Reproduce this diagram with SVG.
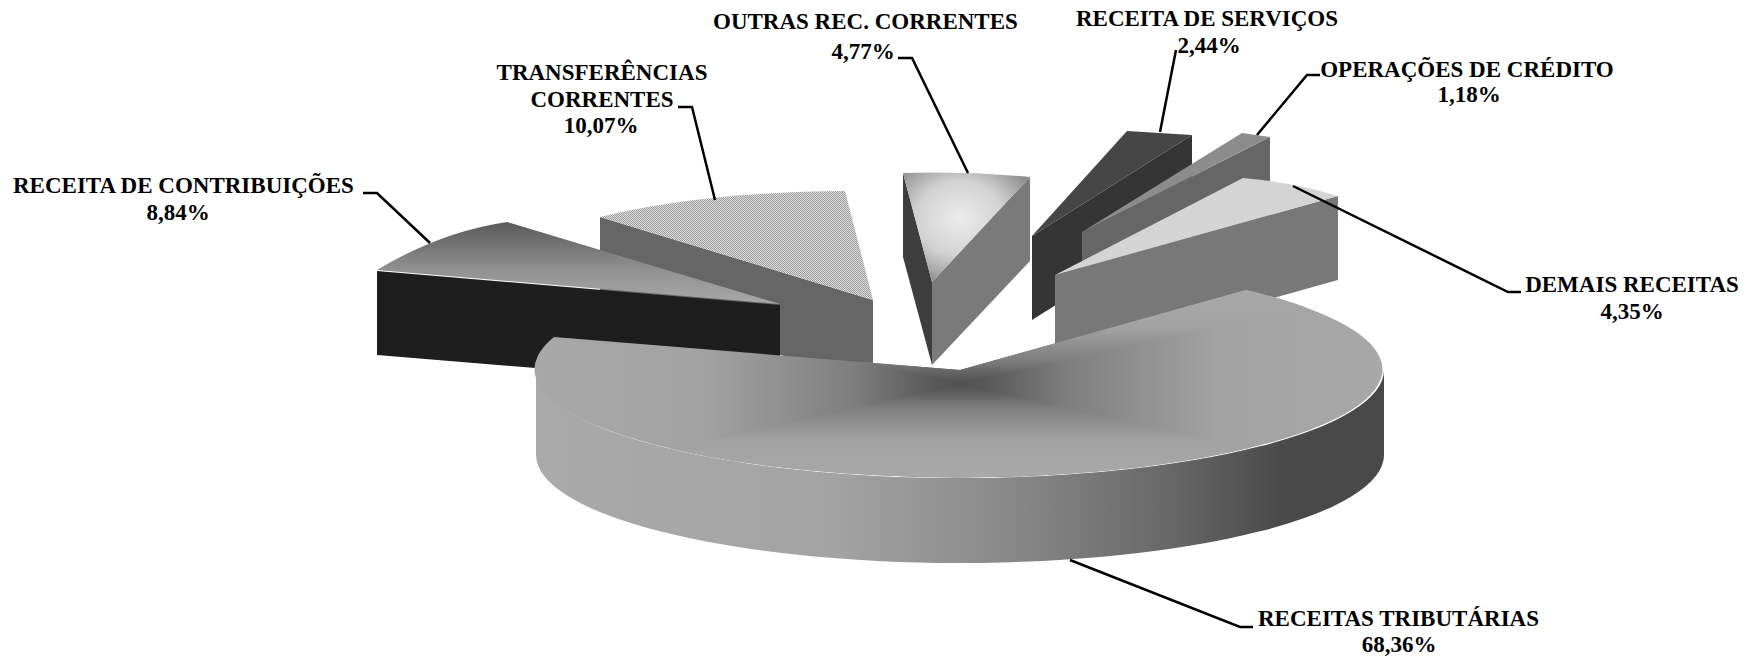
<svg xmlns="http://www.w3.org/2000/svg" width="1759" height="657" viewBox="0 0 1759 657">
<style>
  text { font-family: "Liberation Serif", "Times New Roman", serif; font-weight: bold; font-size: 23px; fill: #000; }
  .mid { text-anchor: middle; }
  .leader { fill: none; stroke: #000; stroke-width: 2.5; stroke-linejoin: miter; }
</style>
<defs>
  <pattern id="hatch" width="2" height="2" patternUnits="userSpaceOnUse">
    <rect width="2" height="2" fill="#e0e0e0"/>
    <rect x="0" y="0" width="1" height="1" fill="#999999"/>
    <rect x="1" y="1" width="1" height="1" fill="#999999"/>
  </pattern>
  <linearGradient id="gContrib" gradientUnits="userSpaceOnUse" x1="0" y1="222" x2="0" y2="304">
    <stop offset="0" stop-color="#5a5a5a"/>
    <stop offset="0.6" stop-color="#929292"/>
    <stop offset="1" stop-color="#a8a8a8"/>
  </linearGradient>
  <radialGradient id="gOutras" cx="0.45" cy="0.42" r="0.62">
    <stop offset="0" stop-color="#ececec"/>
    <stop offset="0.55" stop-color="#d2d2d2"/>
    <stop offset="1" stop-color="#8e8e8e"/>
  </radialGradient>
  <linearGradient id="gWall" gradientUnits="userSpaceOnUse" x1="536" y1="0" x2="1384" y2="0">
    <stop offset="0" stop-color="#aaaaaa"/>
    <stop offset="0.35" stop-color="#a3a3a3"/>
    <stop offset="0.55" stop-color="#8a8a8a"/>
    <stop offset="0.75" stop-color="#676767"/>
    <stop offset="0.88" stop-color="#4a4a4a"/>
    <stop offset="1" stop-color="#484848"/>
  </linearGradient>
  <linearGradient id="gTopH" gradientUnits="userSpaceOnUse" x1="536" y1="0" x2="1384" y2="0">
    <stop offset="0" stop-color="#a8a8a8"/>
    <stop offset="0.2" stop-color="#a2a2a2"/>
    <stop offset="0.375" stop-color="#7e7e7e"/>
    <stop offset="0.46" stop-color="#5c5c5c"/>
    <stop offset="0.5" stop-color="#505050"/>
    <stop offset="0.54" stop-color="#5c5c5c"/>
    <stop offset="0.625" stop-color="#7e7e7e"/>
    <stop offset="0.8" stop-color="#a2a2a2"/>
    <stop offset="1" stop-color="#a8a8a8"/>
  </linearGradient>
  <linearGradient id="gTopT" gradientUnits="userSpaceOnUse" x1="0" y1="290" x2="0" y2="384">
    <stop offset="0" stop-color="#a8a8a8"/>
    <stop offset="0.4" stop-color="#a2a2a2"/>
    <stop offset="0.75" stop-color="#7e7e7e"/>
    <stop offset="0.92" stop-color="#5c5c5c"/>
    <stop offset="1" stop-color="#505050"/>
  </linearGradient>
  <linearGradient id="gTopB" href="#gTopT" gradientUnits="userSpaceOnUse" x1="0" y1="478" x2="0" y2="384"/>
  <clipPath id="clipTop">
    <path d="M960,370 L1246,290 A424,108 0 1,1 554,337 Z"/>
  </clipPath>
</defs>

<rect width="1759" height="657" fill="#ffffff"/>

<g id="transferencias-correntes">
  <path d="M600,217 L873,300 L873,383 L600,300 Z" fill="#666666"/>
  <path d="M873,300 L600,217 Q700,192 845,191 Z" fill="url(#hatch)"/>
  <text class="mid" x="602" y="80">TRANSFERÊNCIAS</text>
  <text class="mid" x="602" y="107">CORRENTES</text>
  <text class="mid" x="601" y="133">10,07%</text>
</g>

<g id="receita-de-contribuicoes">
  <path d="M377,271 L780,305 L780,388 L377,355 Z" fill="#1e1e1e"/>
  <path d="M780,304 L377,270 Q440,232 507,222 Z" fill="url(#gContrib)"/>
  <text x="13" y="193">RECEITA DE CONTRIBUIÇÕES</text>
  <text class="mid" x="178" y="220">8,84%</text>
</g>

<g id="outras-rec-correntes">
  <path d="M903,173 L932,282 L932,365 L903,257 Z" fill="#3e3e3e"/>
  <path d="M932,282 L1030,177 L1030,261 L932,365 Z" fill="#7a7a7a"/>
  <path d="M932,282 L903,173 Q967,171 1030,177 Z" fill="url(#gOutras)"/>
  <text x="713" y="29">OUTRAS REC. CORRENTES</text>
  <text class="mid" x="863" y="59">4,77%</text>
</g>

<g id="receita-de-servicos">
  <path d="M1032,236 L1192,135 L1192,219 L1032,320 Z" fill="#353535"/>
  <path d="M1032,236 L1127,131 L1192,135 Z" fill="#464646"/>
  <text class="mid" x="1207" y="26">RECEITA DE SERVIÇOS</text>
  <text class="mid" x="1209" y="53">2,44%</text>
</g>

<g id="operacoes-de-credito">
  <path d="M1082,232 L1270,137 L1270,221 L1082,316 Z" fill="#666666"/>
  <path d="M1082,232 L1242,133 L1270,137 Z" fill="#8c8c8c"/>
  <text class="mid" x="1467" y="77">OPERAÇÕES DE CRÉDITO</text>
  <text class="mid" x="1469" y="102">1,18%</text>
</g>

<g id="demais-receitas">
  <path d="M1055,275 L1338,196 L1338,280 L1055,359 Z" fill="#787878"/>
  <path d="M1055,275 L1243,178 Q1292,182 1338,196 Z" fill="#d4d4d4"/>
  <text class="mid" x="1632" y="292">DEMAIS RECEITAS</text>
  <text class="mid" x="1632" y="319">4,35%</text>
</g>

<g id="receitas-tributarias">
  <path d="M536,370 A424,108 0 0,0 1384,370 L1384,455 A424,108 0 0,1 536,455 Z" fill="url(#gWall)"/>
  <g clip-path="url(#clipTop)">
    <rect x="500" y="250" width="920" height="250" fill="url(#gTopH)"/>
    <path d="M960,384 L112,196 L1808,196 Z" fill="url(#gTopT)"/>
    <path d="M960,384 L112,572 L1808,572 Z" fill="url(#gTopB)"/>
  </g>
  <text x="1258" y="626">RECEITAS TRIBUTÁRIAS</text>
  <text class="mid" x="1399" y="652">68,36%</text>
</g>

<g id="connectors">
  <path class="leader" d="M363,193 H377 L430,243"/>
  <path class="leader" d="M678,107 H692 L715,200"/>
  <path class="leader" d="M898,58 H912 L968,173"/>
  <path class="leader" d="M1176,50 L1160,132"/>
  <path class="leader" d="M1320,75 H1307 L1257,135"/>
  <path class="leader" d="M1293,186 L1508,292 H1521"/>
  <path class="leader" d="M1070,560 L1240,627 H1253"/>
</g>
</svg>
